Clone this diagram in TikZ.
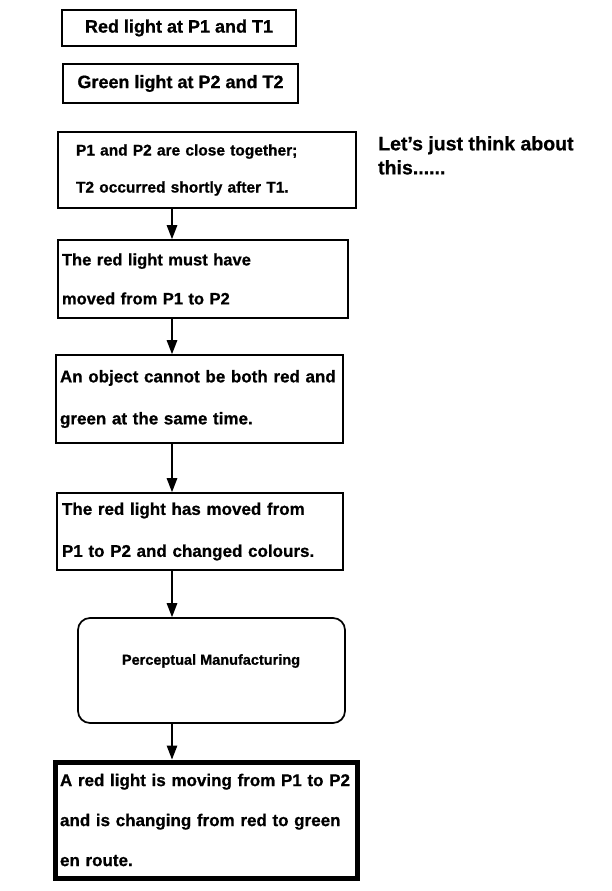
\documentclass[tikz,border=0pt]{standalone}
\usepackage{fontspec}
\setmainfont{Liberation Sans}[BoldFeatures={FakeBold=0.8}]
\usetikzlibrary{arrows.meta}
\newcommand\fsz[2]{\fontsize{#1}{#2}\selectfont\bfseries}
\begin{document}
\begin{tikzpicture}[x=1pt,y=1pt,
  boxbase/.style={draw, line width=1.7pt, inner ysep=0pt, anchor=center},
  leftbox/.style={boxbase, align=left},
  flow/.style={line width=1.3pt, -{Triangle[length=14pt,width=10.5pt]}}]
\useasboundingbox (0,0) rectangle (612,-891);
\coordinate (ax) at (172,0);

\node[boxbase, align=center, minimum width=234, minimum height=36, font=\fsz{18}{22}] (b1) at (179,-28) {Red light at P1 and T1};
\node[boxbase, align=center, minimum width=235, minimum height=39, font=\fsz{18}{22}] (b2) at (180.5,-83.5) {Green light at P2 and T2};

\node[leftbox, minimum width=298, minimum height=76, inner xsep=18pt, text width=262pt, font=\fsz{15.5}{37}] (b3) at (207,-170)
  {P1 and P2 are close together;\\T2 occurred shortly after T1.};
\node[leftbox, minimum width=290, minimum height=78, inner xsep=4pt, text width=282pt, font=\fsz{16.5}{39}] (b4) at (203,-279)
  {The red light must have\\moved from P1 to P2};
\node[leftbox, minimum width=287, minimum height=88, inner xsep=4pt, text width=279pt, font=\fsz{17}{42}] (b5) at (199.5,-399)
  {An object cannot be both red and\\green at the same time.};
\node[leftbox, minimum width=286, minimum height=77, inner xsep=5pt, text width=276pt, font=\fsz{17}{42}] (b6) at (200,-531.5)
  {The red light has moved from\\P1 to P2 and changed colours.};
\node[boxbase, rounded corners=12pt, minimum width=267, minimum height=105] (pm) at (211.5,-670.5) {};
\node[font=\fsz{14.5}{18}] (pmt) at (211,-661) {Perceptual Manufacturing};
\node[leftbox, line width=5pt, minimum width=302, minimum height=116, inner xsep=5pt, text width=292pt, font=\fsz{17}{40}] (bot) at (206,-820)
  {A red light is moving from P1 to P2\\and is changing from red to green\\en route.};

\node[anchor=north west, align=left, inner sep=0pt, font=\fsz{19.5}{24}] (side) at (378,-136)
  {Let’s just think about\\this......};

\draw[flow] (b3.south -| ax) -- (b4.north -| ax);
\draw[flow] (b4.south -| ax) -- (b5.north -| ax);
\draw[flow] (b5.south -| ax) -- (b6.north -| ax);
\draw[flow] (b6.south -| ax) -- (pm.north -| ax);
\draw[flow] (pm.south -| ax) -- (bot.north -| ax);
\end{tikzpicture}
\end{document}
